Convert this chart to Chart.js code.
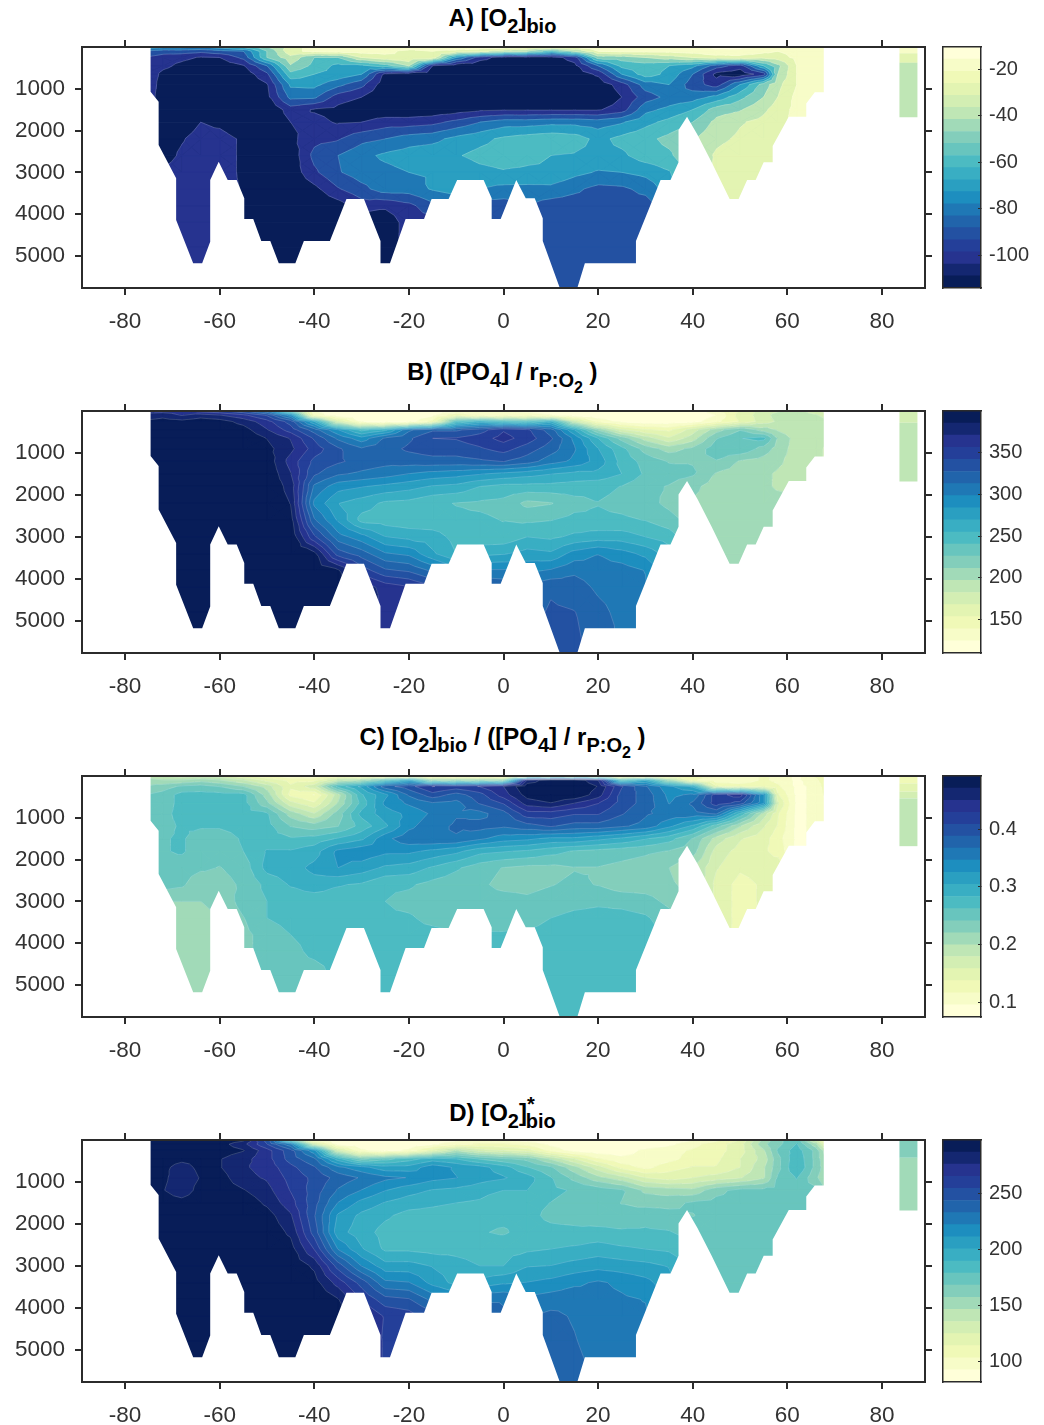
<!DOCTYPE html>
<html>
<head>
<meta charset="utf-8">
<script src="https://cdn.jsdelivr.net/npm/chart.js@4"></script>
<style>
  body { margin: 0; background: #fff; font-family: "Liberation Sans", Arial, sans-serif; }
  #page { position: relative; width: 1044px; height: 1425px; overflow: hidden; }
  canvas { position: absolute; }
  .title { position: absolute; left: 0; width: 1005px; text-align: center; font-size: 24px; font-weight: bold; color: #000; line-height: 26px; white-space: nowrap; }
  .title sub { font-size: 20px; vertical-align: -7px; line-height: 0; }
  .title sub sub { font-size: 16px; vertical-align: -6px; }
  .title sup { font-size: 20px; vertical-align: 10px; line-height: 0; margin-right: -9px; }
</style>
</head>
<body>
<div id="page">
  <div class="title" style="top:5px">A) [O<sub>2</sub>]<sub>bio</sub></div>
  <div class="title" style="top:359px">B) ([PO<sub>4</sub>] / r<sub>P:O<sub>2</sub></sub> )</div>
  <div class="title" style="top:724px">C) [O<sub>2</sub>]<sub>bio</sub> / ([PO<sub>4</sub>] / r<sub>P:O<sub>2</sub></sub> )</div>
  <div class="title" style="top:1100px">D) [O<sub>2</sub>]<sup>*</sup><sub>bio</sub></div>
</div>
<script>
const latTicks = [-80, -60, -40, -20, 0, 20, 40, 60, 80];
const depthTicks = [1000, 2000, 3000, 4000, 5000];
const latitudes = [-76,-72,-68,-64,-60,-55,-50,-45,-40,-35,-30,-25,-20,-15,-10,-5,0,5,10,15,20,25,30,35,40,45,50,55,58,62,66,69];
const depths = [0,100,250,450,650,900,1200,1500,1800,2200,2600,3000,3400,3800,4200,4800,5800];

// seabed and coast outline, lat / depth
const seabedLats = [-74.6,-74.6,-72.9,-72.9,-69.2,-69.2,-65.6,-63.7,-62,-62,-60.2,-58.3,-56.4,-54.8,-54.8,-52.9,-51.2,-49.3,-47.5,-44,-42.2,-36.7,-33.2,-29.5,-26,-26,-24,-20.7,-16.8,-15.2,-11.6,-9.8,-4.2,-2.5,-2.5,-0.6,2.7,4.7,6.6,8.3,8.3,11.9,15.6,17.2,28,28,33.2,35.3,37,37,38.8,41,44,47.8,49.7,51.5,53.3,55,56.9,56.9,60.3,64,64,65.8,67.7,67.7];
const seabedDepths = [0,1070,1310,2347,3145,4144,5180,5180,4663,3186,2747,3186,3186,3624,4120,4120,4647,4647,5180,5180,4647,4647,3640,3640,4647,5180,5180,4120,4120,3640,3640,3186,3186,3624,4120,4120,3186,3624,3624,4100,4647,5770,5770,5180,5180,4647,3186,3186,2760,1990,1670,2100,2760,3640,3640,3186,3186,2760,2760,2371,1670,1670,1350,1085,1085,0];

const arcticLats = [83.7, 87.5];
const arcticDepthsA = [0, 150, 380, 1680];
const arcticValuesA = [-20, -30, -40];
const arcticDepthsB = [0, 280, 1680];
const arcticValuesB = [175, 190];
const arcticDepthsC = [0, 176, 376, 536, 1680];
const arcticValuesC = [0.13, 0.15, 0.17, 0.19];
const arcticDepthsD = [0, 424, 1680];
const arcticValuesD = [160, 150];

const ylgnbu = ['#ffffd9','#f7fcc8','#f0f9b7','#e3f4b2','#d3eeb3','#bfe6b5','#a1dab8','#83cebb','#68c5be','#4cbbc2','#39aec3','#2a9fc1','#1d8ebf','#1f78b5','#2164ab','#2351a2','#243f99','#26338f','#142771','#081d58'];

// colour bar edges
const barEdgesA = [-114,-108.8,-103.7,-98.5,-93.3,-88.1,-83,-77.8,-72.6,-67.5,-62.3,-57.1,-51.9,-46.8,-41.6,-36.4,-31.3,-26.1,-20.9,-15.7,-10.5];
const levelsB = [110,124.5,139,153.5,168,182.5,197,211.5,226,240.5,255,269.5,284,298.5,313,327.5,342,356.5,371,385.5,400];
const levelsC = [0.074,0.095,0.116,0.137,0.158,0.179,0.199,0.22,0.241,0.262,0.283,0.304,0.325,0.346,0.367,0.388,0.408,0.429,0.45,0.471,0.492];
const levelsD = [82,92.8,103.6,114.4,125.2,136,146.8,157.6,168.4,179.2,190,200.8,211.6,222.4,233.2,244,254.8,265.6,276.4,287.2,298];
const barTicksA = [-100, -80, -60, -40, -20];
const barTicksB = [150, 200, 250, 300, 350];
const barTicksC = [0.1, 0.2, 0.3, 0.4];
const barTicksD = [100, 150, 200, 250];

// panel A is contoured every 10, the bar keeps the finer steps
const levelsA = [-125,-105,-95,-85,-75,-65,-55,-45,-35,-25,-15];
const bandColorsA = ['#081d58','#26338f','#2351a2','#1f78b5','#2a9fc1','#4cbbc2','#83cebb','#bfe6b5','#e3f4b2','#f7fcc8','#ffffd9'];

const o2bio = [
[-70,-72,-72,-75,-70,-60,-45,-30,-20,-16,-15,-16,-18,-18,-18,-18,-18,-20,-22,-22,-18,-16,-15,-15,-15,-14,-13,-15,-20,-20,-20,-20],
[-85,-90,-90,-92,-88,-85,-55,-28,-22,-20,-20,-22,-28,-25,-28,-32,-40,-45,-60,-45,-25,-22,-22,-22,-20,-16,-18,-22,-25,-22,-20,-20],
[-95,-100,-102,-106,-105,-92,-55,-38,-55,-55,-35,-28,-25,-28,-75,-100,-110,-110,-110,-100,-50,-50,-45,-40,-35,-30,-28,-32,-30,-22,-20,-20],
[-95,-102,-108,-112,-112,-106,-85,-46,-58,-68,-68,-60,-45,-105,-112,-113,-113,-113,-113,-108,-85,-62,-60,-65,-72,-90,-100,-65,-48,-25,-20,-20],
[-95,-108,-112,-114,-114,-112,-97,-58,-65,-68,-75,-108,-112,-114,-114,-114,-114,-114,-114,-112,-103,-75,-60,-68,-85,-108,-112,-100,-45,-25,-18,-18],
[-95,-110,-114,-114,-114,-114,-106,-73,-72,-82,-92,-112,-114,-114,-114,-114,-114,-114,-114,-114,-112,-100,-80,-75,-90,-100,-75,-50,-38,-25,-18,-18],
[-95,-112,-115,-115,-115,-115,-108,-82,-83,-100,-105,-113,-115,-115,-115,-115,-115,-115,-115,-115,-115,-105,-90,-82,-80,-72,-58,-45,-35,-22,-18,-22],
[-100,-112,-115,-115,-115,-115,-115,-100,-106,-108,-113,-113,-113,-112,-110,-107,-106,-106,-106,-106,-106,-100,-78,-72,-65,-50,-46,-37,-30,-22,-20,-20],
[-105,-112,-113,-105,-108,-115,-115,-105,-102,-106,-105,-100,-100,-98,-92,-85,-80,-80,-78,-78,-80,-76,-68,-62,-55,-42,-36,-32,-28,-22,-22,-22],
[-108,-110,-106,-100,-100,-107,-115,-108,-98,-96,-88,-85,-80,-78,-72,-68,-63,-60,-58,-60,-68,-62,-58,-52,-46,-38,-33,-30,-28,-30,-30,-30],
[-110,-110,-103,-100,-100,-107,-115,-112,-92,-85,-78,-73,-70,-68,-66,-62,-60,-62,-65,-66,-68,-67,-60,-57,-46,-33,-28,-27,-28,-30,-30,-30],
[-105,-103,-100,-100,-100,-107,-113,-112,-97,-86,-80,-78,-75,-74,-72,-68,-66,-67,-66,-72,-76,-75,-72,-66,-50,-32,-28,-27,-27,-30,-30,-30],
[-100,-100,-100,-100,-100,-106,-112,-115,-108,-96,-88,-80,-80,-74,-70,-75,-78,-78,-78,-83,-88,-87,-82,-70,-52,-30,-28,-27,-27,-30,-30,-30],
[-100,-100,-100,-100,-100,-108,-115,-115,-115,-110,-100,-103,-98,-88,-85,-90,-90,-85,-90,-90,-90,-90,-90,-80,-60,-30,-28,-27,-27,-30,-30,-30],
[-100,-100,-100,-100,-100,-115,-115,-115,-115,-115,-115,-112,-100,-100,-100,-97,-90,-88,-90,-90,-90,-90,-88,-80,-60,-30,-28,-27,-27,-30,-30,-30],
[-100,-100,-100,-100,-100,-115,-115,-115,-115,-115,-115,-112,-100,-100,-100,-97,-90,-90,-90,-90,-90,-90,-90,-80,-60,-30,-28,-27,-27,-30,-30,-30],
[-100,-100,-100,-100,-100,-115,-115,-115,-115,-115,-115,-112,-100,-100,-100,-97,-90,-90,-90,-90,-90,-90,-90,-80,-60,-30,-28,-27,-27,-30,-30,-30]
];

const po4Ratio = [
[365,365,365,350,345,330,300,220,125,115,112,112,112,115,120,125,125,120,112,112,112,112,112,112,115,135,155,175,180,190,170,160],
[375,380,370,378,372,360,340,290,135,112,112,112,112,120,150,135,135,135,125,112,112,112,112,112,112,125,160,175,190,195,185,170],
[388,392,390,395,392,380,362,335,270,170,120,112,115,145,240,260,245,240,260,180,135,120,115,115,118,135,155,175,185,190,190,190],
[398,398,398,398,398,392,372,350,320,285,250,265,310,325,325,335,355,345,320,270,210,170,155,150,175,205,225,205,195,185,185,185],
[400,400,400,400,400,398,385,370,340,310,290,315,325,342,343,350,362,350,330,295,255,220,190,170,190,225,240,245,210,190,185,185],
[400,400,400,400,400,400,390,375,350,330,315,322,330,335,335,340,348,335,320,300,270,245,220,205,215,235,238,220,205,190,185,180],
[400,400,400,400,400,400,395,365,338,330,322,318,320,322,322,325,328,320,305,295,278,250,235,225,225,225,210,205,200,190,185,180],
[400,400,400,400,400,400,398,372,330,315,310,305,298,293,290,285,280,275,270,265,265,255,238,232,228,210,205,200,195,190,185,180],
[400,400,400,400,400,400,398,380,310,290,285,280,275,268,265,255,250,250,250,248,245,240,230,225,215,205,203,200,195,190,190,190],
[400,400,400,400,400,400,398,385,295,270,262,252,250,243,240,238,236,222,225,235,240,236,232,222,210,205,203,203,203,203,203,203],
[400,400,400,400,400,400,400,392,315,282,250,248,245,245,243,243,240,238,240,245,243,243,240,232,220,205,203,203,203,203,203,203],
[400,400,400,400,400,400,400,398,345,305,290,270,265,262,250,245,245,255,252,258,262,262,255,248,225,205,203,203,203,203,203,203],
[400,400,400,400,400,400,400,400,390,335,320,300,295,272,255,265,268,275,272,290,298,290,280,262,225,205,203,203,203,203,203,203],
[400,400,400,400,400,400,400,400,398,388,350,330,325,310,290,300,300,295,300,310,305,305,298,270,225,205,203,203,203,203,203,203],
[400,400,400,400,400,400,400,400,400,395,380,365,358,345,340,330,325,315,325,320,310,305,300,270,225,205,203,203,203,203,203,203],
[400,400,400,400,400,400,400,400,400,400,390,365,360,345,340,330,325,320,330,328,318,308,305,270,225,205,203,203,203,203,203,203],
[400,400,400,400,400,400,400,400,400,400,390,365,360,345,340,330,325,320,330,330,328,310,305,270,225,205,203,203,203,203,203,203]
];

const o2Fraction = [
[.19,.18,.17,.17,.17,.14,.12,.10,.10,.12,.10,.10,.10,.09,.09,.09,.09,.10,.10,.10,.09,.09,.09,.10,.12,.12,.10,.12,.11,.09,.12,.15],
[.21,.20,.20,.21,.20,.18,.15,.13,.13,.18,.20,.25,.30,.20,.20,.20,.20,.45,.49,.49,.45,.25,.30,.20,.12,.10,.10,.12,.11,.09,.11,.14],
[.22,.23,.245,.25,.24,.22,.19,.14,.17,.27,.31,.38,.40,.43,.42,.43,.45,.49,.49,.49,.47,.41,.37,.33,.30,.14,.13,.13,.12,.09,.10,.14],
[.24,.25,.27,.27,.27,.27,.21,.13,.115,.19,.28,.32,.37,.40,.38,.40,.44,.48,.49,.49,.46,.40,.38,.34,.35,.42,.44,.33,.14,.09,.10,.13],
[.24,.25,.27,.27,.27,.27,.225,.165,.14,.20,.27,.33,.35,.365,.36,.39,.41,.46,.47,.45,.43,.40,.38,.345,.37,.42,.40,.33,.16,.09,.10,.12],
[.24,.255,.27,.27,.27,.27,.265,.21,.18,.23,.29,.315,.33,.35,.365,.36,.38,.42,.42,.41,.41,.39,.37,.36,.36,.37,.28,.19,.14,.09,.10,.12],
[.24,.255,.265,.265,.265,.27,.27,.24,.23,.24,.27,.30,.34,.36,.37,.375,.37,.38,.39,.38,.38,.37,.36,.33,.30,.25,.20,.16,.135,.09,.10,.11],
[.25,.26,.265,.25,.25,.265,.27,.265,.27,.285,.30,.34,.36,.365,.365,.35,.335,.33,.32,.32,.31,.30,.285,.27,.24,.19,.16,.145,.125,.09,.10,.10],
[.25,.26,.265,.25,.25,.262,.285,.285,.295,.33,.34,.33,.33,.32,.31,.29,.285,.28,.27,.26,.255,.25,.245,.24,.23,.17,.15,.14,.13,.09,.10,.10],
[.25,.255,.25,.245,.24,.25,.29,.295,.31,.325,.315,.30,.295,.28,.265,.25,.24,.235,.235,.24,.24,.235,.23,.22,.20,.16,.14,.145,.15,.11,.10,.10],
[.25,.25,.245,.225,.232,.245,.268,.285,.295,.285,.28,.265,.265,.255,.25,.245,.235,.235,.24,.245,.24,.23,.23,.225,.21,.15,.13,.14,.15,.11,.10,.10],
[.22,.22,.22,.22,.225,.25,.262,.27,.27,.27,.27,.262,.255,.25,.25,.25,.25,.245,.25,.255,.258,.255,.25,.235,.22,.15,.13,.14,.15,.11,.10,.10],
[.215,.215,.215,.215,.22,.24,.262,.27,.27,.27,.27,.265,.265,.255,.25,.25,.25,.255,.262,.268,.27,.27,.265,.25,.22,.15,.13,.14,.15,.11,.10,.10],
[.215,.215,.215,.215,.22,.235,.25,.262,.27,.27,.27,.27,.27,.27,.265,.265,.265,.265,.268,.27,.27,.27,.27,.26,.22,.15,.13,.14,.15,.11,.10,.10],
[.215,.215,.215,.215,.22,.235,.25,.255,.268,.27,.27,.27,.27,.27,.27,.27,.27,.27,.27,.27,.27,.27,.27,.26,.22,.15,.13,.14,.15,.11,.10,.10],
[.215,.215,.215,.215,.22,.235,.25,.25,.25,.27,.27,.27,.27,.27,.27,.27,.27,.27,.27,.27,.27,.27,.27,.26,.22,.15,.13,.14,.15,.11,.10,.10],
[.215,.215,.215,.215,.22,.235,.25,.25,.25,.27,.27,.27,.27,.27,.27,.27,.27,.27,.27,.27,.27,.27,.27,.26,.22,.15,.13,.14,.15,.11,.10,.10]
];

const o2Star = [
[295,295,295,295,295,290,250,165,90,85,85,85,85,88,90,90,90,88,85,85,85,85,85,85,92,100,115,150,165,175,130,85],
[295,295,295,295,292,280,255,225,130,88,85,85,85,90,100,105,105,100,90,85,85,85,85,90,100,110,120,155,165,180,150,100],
[293,293,293,293,293,288,270,248,215,130,95,88,95,120,145,130,125,120,100,88,85,88,95,100,105,110,120,145,170,185,165,130],
[292,292,290,290,288,280,270,250,235,195,165,175,185,195,190,178,170,165,145,125,105,95,95,100,108,112,125,140,165,188,165,140],
[292,290,283,290,288,278,272,258,245,225,215,205,205,218,210,205,195,180,170,150,130,110,100,110,115,115,125,145,165,190,165,145],
[292,290,280,288,292,280,275,262,252,240,232,225,222,215,212,205,202,195,180,165,150,140,125,120,125,130,135,145,170,180,160,145],
[292,288,280,292,293,288,280,265,250,232,222,212,205,200,198,195,190,190,182,178,175,170,155,152,150,165,172,172,172,172,172,150],
[295,293,292,295,295,295,285,270,248,222,208,200,195,192,190,188,180,182,179,175,175,168,165,165,170,172,172,172,172,172,172,165],
[296,296,296,296,296,296,292,278,245,210,198,192,186,186,184,182,182,182,177,175,172,172,175,172,168,172,172,172,172,172,172,172],
[296,296,296,296,296,296,295,285,250,205,195,186,183,182,180,180,178,183,182,182,183,181,181,180,175,172,172,172,172,172,172,172],
[296,296,296,296,296,296,296,292,265,222,202,188,188,186,186,184,186,188,190,192,195,192,190,188,182,172,172,172,172,172,172,172],
[296,296,296,296,296,296,298,296,285,250,222,205,205,200,195,190,190,200,201,205,208,206,204,200,185,172,172,172,172,172,172,172],
[296,296,296,296,296,296,298,298,292,272,250,225,223,208,197,205,210,212,215,220,224,220,215,205,185,172,172,172,172,172,172,172],
[296,296,296,296,296,296,298,298,297,288,265,248,245,230,225,232,232,225,228,230,226,224,222,210,185,172,172,172,172,172,172,172],
[296,296,296,296,296,296,298,298,298,295,280,264,260,250,245,242,235,232,236,232,226,224,224,210,185,172,172,172,172,172,172,172],
[296,296,296,296,296,296,298,298,298,297,290,262,262,250,245,242,235,235,238,234,228,230,228,210,185,172,172,172,172,172,172,172],
[296,296,296,296,296,296,298,298,298,297,290,262,262,250,245,242,235,235,240,238,232,232,232,210,185,172,172,172,172,172,172,172]
];

const AXIS = '#2b2b2b';
const LABEL = '#333333';
const FONT = { family: '"Liberation Sans", Arial, sans-serif', size: 22.5 };
const BAR_FONT = { family: '"Liberation Sans", Arial, sans-serif', size: 20 };
const GAP = { x: NaN, y: NaN };

function bandColor(value, levels, colors) {
  let k = 0;
  for (let i = 0; i < colors.length; i++) if (value >= levels[i]) k = i;
  return colors[k];
}

// clip one triangle to v >= level, returns polygon and the iso segment
function clipTriangle(tri, level) {
  const poly = [], seg = [];
  for (let i = 0; i < 3; i++) {
    const a = tri[i], b = tri[(i + 1) % 3];
    if (a.v >= level) poly.push({ x: a.x, y: a.y });
    if ((a.v >= level) !== (b.v >= level)) {
      const t = (level - a.v) / (b.v - a.v);
      const p = { x: a.x + t * (b.x - a.x), y: a.y + t * (b.y - a.y) };
      poly.push(p);
      seg.push(p);
    }
  }
  return { poly, seg };
}

function contourLevel(grid, level) {
  const fill = [], lines = [];
  const rect = (i0, i1, j) => {
    fill.push({ x: latitudes[i0], y: depths[j] }, { x: latitudes[i1], y: depths[j] },
      { x: latitudes[i1], y: depths[j + 1] }, { x: latitudes[i0], y: depths[j + 1] }, GAP);
  };
  for (let j = 0; j < depths.length - 1; j++) {
    let run = null;
    for (let i = 0; i < latitudes.length - 1; i++) {
      const a = grid[j][i], b = grid[j][i + 1], c = grid[j + 1][i + 1], d = grid[j + 1][i];
      const lo = Math.min(a, b, c, d), hi = Math.max(a, b, c, d);
      if (lo >= level) { if (run === null) run = i; continue; }
      if (run !== null) { rect(run, i, j); run = null; }
      if (hi < level) continue;
      const x0 = latitudes[i], x1 = latitudes[i + 1], y0 = depths[j], y1 = depths[j + 1];
      const corners = [{ x: x0, y: y0, v: a }, { x: x1, y: y0, v: b }, { x: x1, y: y1, v: c }, { x: x0, y: y1, v: d }];
      const mid = { x: (x0 + x1) / 2, y: (y0 + y1) / 2, v: (a + b + c + d) / 4 };
      for (let k = 0; k < 4; k++) {
        const { poly, seg } = clipTriangle([corners[k], corners[(k + 1) % 4], mid], level);
        if (poly.length > 2) fill.push(...poly, GAP);
        if (seg.length === 2) lines.push(seg[0], seg[1], GAP);
      }
    }
    if (run !== null) rect(run, latitudes.length - 1, j);
  }
  return { fill, lines };
}

function shape(points, color, width) {
  return {
    data: points, showLine: true, fill: 'shape', backgroundColor: color,
    borderColor: color, borderWidth: width, borderDash: [100000],
    pointRadius: 0, spanGaps: false, borderJoinStyle: 'round'
  };
}

function sectionDatasets(grid, levels, colors, arcticDepths, arcticValues) {
  const fills = [], strokes = [];
  colors.forEach((color, n) => {
    const { fill, lines } = contourLevel(grid, levels[n]);
    if (fill.length) fills.push(shape(fill, color, 0.8));
    if (lines.length && n > 0) strokes.push({
      data: lines, showLine: true, fill: false, borderColor: 'rgba(255,255,255,0.3)',
      borderWidth: 0.6, borderDash: [100000], pointRadius: 0, spanGaps: false
    });
  });
  const outline = [{ x: -95, y: -100 }, { x: seabedLats[0], y: -100 }];
  seabedLats.forEach((lat, i) => outline.push({ x: lat, y: seabedDepths[i] }));
  outline.push({ x: seabedLats[seabedLats.length - 1], y: -100 }, { x: 95, y: -100 }, { x: 95, y: 6500 }, { x: -95, y: 6500 });
  const mask = shape(outline, '#ffffff', 0);
  const arctic = arcticValues.map((v, i) => shape([
    { x: arcticLats[0], y: arcticDepths[i] }, { x: arcticLats[1], y: arcticDepths[i] },
    { x: arcticLats[1], y: arcticDepths[i + 1] }, { x: arcticLats[0], y: arcticDepths[i + 1] }
  ], bandColor(v, levels, colors), 0));
  // last in the array is painted first
  return [...fills, ...strokes, mask, ...arctic].reverse();
}

// pins an axis box to an exact size and drops the label overhang padding
function fixedSize(prop, size) {
  return s => {
    s[prop] = size;
    s.paddingTop = s.paddingBottom = s.paddingLeft = s.paddingRight = 0;
  };
}
function setTicks(values) {
  return s => { s.ticks = values.map(v => ({ value: v })); };
}

function frameAxis(position, size, values, min, max, reverse) {
  const horizontal = position === 'top' || position === 'bottom';
  return {
    type: 'linear', position, min, max, reverse,
    afterFit: fixedSize(horizontal ? 'height' : 'width', size),
    afterBuildTicks: setTicks(values),
    ticks: { display: false },
    border: { color: AXIS, width: 2, z: 1 },
    grid: { drawOnChartArea: false, color: AXIS, lineWidth: 2, tickLength: 7, z: 1 }
  };
}

function drawSection(id, top, height, grid, levels, colors, arcticDepths, arcticValues) {
  const cv = document.createElement('canvas');
  cv.id = id;
  cv.width = 935; cv.height = height + 55;
  cv.style.left = '0px'; cv.style.top = (top - 10) + 'px';
  document.getElementById('page').appendChild(cv);
  const xAxis = frameAxis('bottom', 45, latTicks, -89.1, 89.1, false);
  xAxis.ticks = { display: true, color: LABEL, font: FONT, padding: 13, maxRotation: 0, callback: v => String(v) };
  const yAxis = frameAxis('left', 82, depthTicks, 0, 5770, true);
  yAxis.ticks = { display: true, color: LABEL, font: FONT, padding: 10, callback: v => String(v) };
  new Chart(cv, {
    type: 'scatter',
    data: { datasets: sectionDatasets(grid, levels, colors, arcticDepths, arcticValues) },
    options: {
      responsive: false, animation: false, events: [], devicePixelRatio: 1,
      layout: { autoPadding: false, padding: 0 },
      plugins: { legend: { display: false }, tooltip: { enabled: false } },
      scales: {
        x: xAxis, y: yAxis,
        x2: frameAxis('top', 10, latTicks, -89.1, 89.1, false),
        y2: frameAxis('right', 10, depthTicks, 0, 5770, true)
      }
    }
  });
}

function drawBar(id, top, height, edges, palette, ticks) {
  const cv = document.createElement('canvas');
  cv.id = id;
  cv.width = 110; cv.height = height + 10;
  cv.style.left = '930px'; cv.style.top = (top - 5) + 'px';
  document.getElementById('page').appendChild(cv);
  const lo = edges[0], hi = edges[edges.length - 1];
  const datasets = palette.map((color, i) => ({
    data: [[edges[i], edges[i + 1]]], backgroundColor: color, borderWidth: 0,
    grouped: false, barPercentage: 1, categoryPercentage: 1
  }));
  const frame = (position, size) => ({
    position, display: true, afterFit: fixedSize('height', size),
    ticks: { display: false },
    border: { color: AXIS, width: 1.5, z: 1 },
    grid: { display: true, drawOnChartArea: false, drawTicks: false }
  });
  new Chart(cv, {
    type: 'bar',
    data: { labels: [''], datasets },
    options: {
      responsive: false, animation: false, events: [], devicePixelRatio: 1,
      layout: { autoPadding: false, padding: 0 },
      plugins: { legend: { display: false }, tooltip: { enabled: false } },
      scales: {
        x: Object.assign({ type: 'category' }, frame('bottom', 5)),
        x2: Object.assign({ type: 'category', labels: [''] }, frame('top', 5)),
        yLeft: {
          type: 'linear', position: 'left', min: lo, max: hi,
          afterFit: fixedSize('width', 13), ticks: { display: false },
          afterBuildTicks: setTicks([]),
          border: { color: AXIS, width: 1.5, z: 1 },
          grid: { display: true, drawOnChartArea: false, drawTicks: false }
        },
        y: {
          type: 'linear', position: 'right', min: lo, max: hi,
          afterFit: fixedSize('width', 59), afterBuildTicks: setTicks(ticks),
          ticks: { color: LABEL, font: BAR_FONT, padding: 11, callback: v => String(v) },
          border: { color: AXIS, width: 1.5, z: 1 },
          grid: { drawOnChartArea: false, color: AXIS, lineWidth: 1, tickLength: -3, z: 1 }
        }
      }
    }
  });
}

const ylgnbuRev = ylgnbu.slice().reverse();

drawSection('sectionA', 47, 241, o2bio, levelsA, bandColorsA, arcticDepthsA, arcticValuesA);
drawBar('barA', 47, 241, barEdgesA, ylgnbuRev, barTicksA);
drawSection('sectionB', 411, 242, po4Ratio, levelsB, ylgnbu, arcticDepthsB, arcticValuesB);
drawBar('barB', 411, 242, levelsB, ylgnbu, barTicksB);
drawSection('sectionC', 776, 241, o2Fraction, levelsC, ylgnbu, arcticDepthsC, arcticValuesC);
drawBar('barC', 776, 241, levelsC, ylgnbu, barTicksC);
drawSection('sectionD', 1140, 242, o2Star, levelsD, ylgnbu, arcticDepthsD, arcticValuesD);
drawBar('barD', 1140, 242, levelsD, ylgnbu, barTicksD);
</script>
</body>
</html>
